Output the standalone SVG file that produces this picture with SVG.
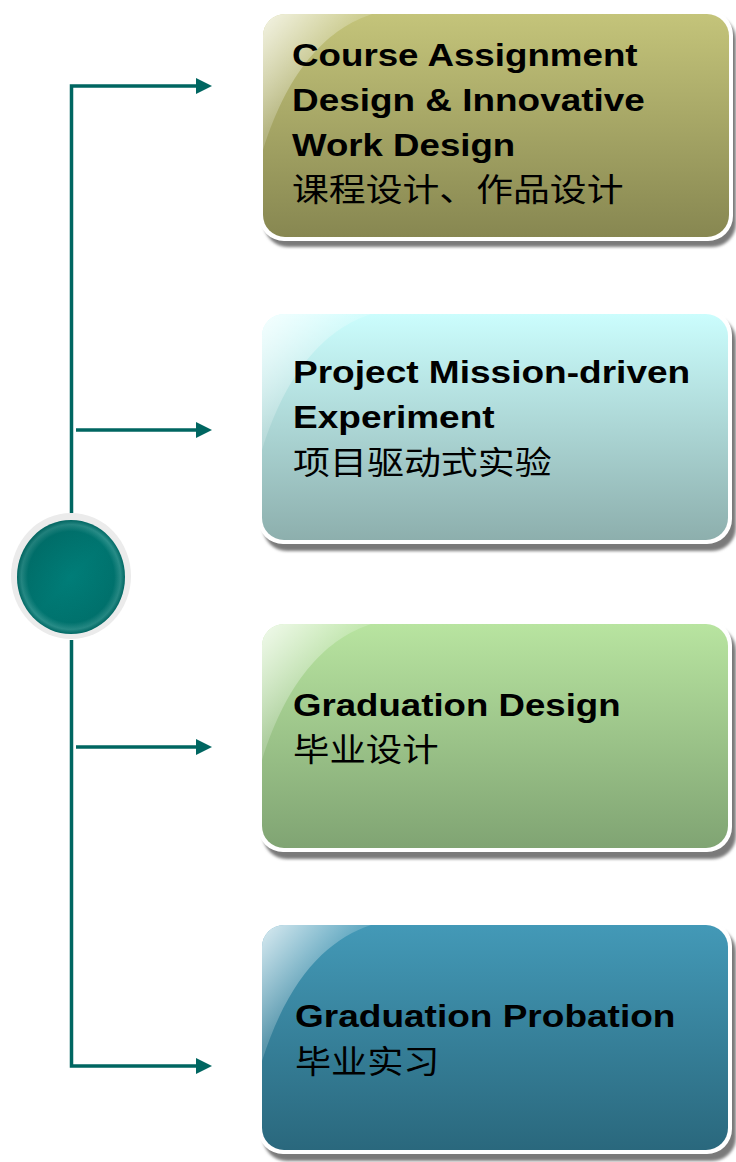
<svg xmlns="http://www.w3.org/2000/svg" width="736" height="1162" viewBox="0 0 736 1162">
<style>
.en{font-family:"Liberation Sans",Arial,sans-serif;font-weight:bold;font-size:31px;fill:#000}
.zh{font-family:"Noto Sans CJK SC","Liberation Sans",sans-serif;font-weight:normal;font-size:32px;fill:#000}
.frame{fill:#fff}
.shadow{fill:#7a7a7a;filter:url(#blur)}
.gloss{fill:url(#glossG)}
.conn{fill:none;stroke:#006661;stroke-width:3.5;marker-end:url(#arr)}
</style>
<defs>
<filter id="blur" x="-5%" y="-5%" width="110%" height="110%"><feGaussianBlur stdDeviation="1.5"/></filter>
<marker id="arr" markerUnits="userSpaceOnUse" markerWidth="16" markerHeight="16" refX="0" refY="8" orient="auto" viewBox="0 0 16 16"><path d="M0,0 L16,8 L0,16 Z" fill="#006661"/></marker>
<linearGradient id="g1" x1="0" y1="0" x2="0" y2="1"><stop offset="0" stop-color="#c4c47a"/><stop offset="1" stop-color="#878751"/></linearGradient>
<linearGradient id="g2" x1="0" y1="0" x2="0" y2="1"><stop offset="0" stop-color="#cbfdfd"/><stop offset="1" stop-color="#8dafad"/></linearGradient>
<linearGradient id="g3" x1="0" y1="0" x2="0" y2="1"><stop offset="0" stop-color="#b8e4a0"/><stop offset="1" stop-color="#80a473"/></linearGradient>
<linearGradient id="g4" x1="0" y1="0" x2="0" y2="1"><stop offset="0" stop-color="#4399b7"/><stop offset="1" stop-color="#2a687d"/></linearGradient>
<linearGradient id="glossG" x1="0" y1="0" x2="1" y2="1"><stop offset="0" stop-color="#fff" stop-opacity="0.8"/><stop offset="0.45" stop-color="#fff" stop-opacity="0.2"/><stop offset="1" stop-color="#fff" stop-opacity="0"/></linearGradient>
<radialGradient id="ball" cx="0.5" cy="0.5" r="0.5"><stop offset="0" stop-color="#007d78"/><stop offset="0.8" stop-color="#007570"/><stop offset="0.92" stop-color="#2a8f8a"/><stop offset="1" stop-color="#006a66"/></radialGradient>
<linearGradient id="ballShade" x1="0" y1="0" x2="1" y2="1"><stop offset="0" stop-color="#004f4b" stop-opacity="0.35"/><stop offset="0.5" stop-color="#004f4b" stop-opacity="0"/><stop offset="1" stop-color="#004f4b" stop-opacity="0.2"/></linearGradient>
</defs>

<g id="connectors">
<path class="conn" d="M71.5,513 V86 H196"/>
<path class="conn" d="M71.5,640 V1066 H196"/>
<path class="conn" d="M76,430 H196"/>
<path class="conn" d="M76,747 H196"/>
</g>

<g id="hub">
<ellipse cx="71" cy="576" rx="60" ry="63" fill="#ebebeb"/>
<ellipse cx="71" cy="577" rx="54" ry="57" fill="url(#ball)"/>
<ellipse cx="71" cy="577" rx="54" ry="57" fill="url(#ballShade)"/>
</g>

<g id="node1">
<rect class="shadow" x="264" y="16" width="472" height="231" rx="24"/>
<rect class="frame" x="259" y="10" width="474" height="231" rx="25"/>
<rect x="263" y="14" width="466" height="223" rx="22" fill="url(#g1)"/>
<path class="gloss" d="M285,14 H372 C330,28 290,65 263,150 V36 A22,22 0 0 1 285,14 Z"/>
<text class="en" transform="matrix(1.2,0,0,1,292,0)" x="0" y="66" textLength="288" lengthAdjust="spacingAndGlyphs">Course Assignment</text>
<text class="en" transform="matrix(1.2,0,0,1,292,0)" x="0" y="111" textLength="294" lengthAdjust="spacingAndGlyphs">Design &amp; Innovative</text>
<text class="en" transform="matrix(1.2,0,0,1,292,0)" x="0" y="156" textLength="186" lengthAdjust="spacingAndGlyphs">Work Design</text>
<text class="zh" transform="matrix(1.12,0,0,1,292,0)" x="0" y="201" textLength="296" lengthAdjust="spacingAndGlyphs">课程设计、作品设计</text>
</g>

<g id="node2">
<rect class="shadow" x="263" y="317" width="473" height="234" rx="24"/>
<rect class="frame" x="258" y="310" width="474" height="234" rx="25"/>
<rect x="262" y="314" width="466" height="226" rx="22" fill="url(#g2)"/>
<path class="gloss" d="M284,314 H371 C329,328 289,365 262,450 V336 A22,22 0 0 1 284,314 Z"/>
<text class="en" transform="matrix(1.2,0,0,1,293,0)" x="0" y="383" textLength="331" lengthAdjust="spacingAndGlyphs">Project Mission-driven</text>
<text class="en" transform="matrix(1.2,0,0,1,293,0)" x="0" y="428" textLength="168" lengthAdjust="spacingAndGlyphs">Experiment</text>
<text class="zh" transform="matrix(1.12,0,0,1,293,0)" x="0" y="474" textLength="231" lengthAdjust="spacingAndGlyphs">项目驱动式实验</text>
</g>

<g id="node3">
<rect class="shadow" x="263" y="627" width="473" height="232" rx="24"/>
<rect class="frame" x="258" y="620" width="474" height="232" rx="25"/>
<rect x="262" y="624" width="466" height="224" rx="22" fill="url(#g3)"/>
<path class="gloss" d="M284,624 H371 C329,638 289,675 262,760 V646 A22,22 0 0 1 284,624 Z"/>
<text class="en" transform="matrix(1.2,0,0,1,293,0)" x="0" y="716" textLength="273" lengthAdjust="spacingAndGlyphs">Graduation Design</text>
<text class="zh" transform="matrix(1.12,0,0,1,293,0)" x="0" y="761" textLength="130" lengthAdjust="spacingAndGlyphs">毕业设计</text>
</g>

<g id="node4">
<rect class="shadow" x="263" y="928" width="473" height="233" rx="24"/>
<rect class="frame" x="258" y="921" width="474" height="233" rx="25"/>
<rect x="262" y="925" width="466" height="225" rx="22" fill="url(#g4)"/>
<path class="gloss" d="M284,925 H371 C329,939 289,976 262,1061 V947 A22,22 0 0 1 284,925 Z"/>
<text class="en" transform="matrix(1.2,0,0,1,295,0)" x="0" y="1027" textLength="317" lengthAdjust="spacingAndGlyphs">Graduation Probation</text>
<text class="zh" transform="matrix(1.12,0,0,1,295,0)" x="0" y="1073" textLength="129" lengthAdjust="spacingAndGlyphs">毕业实习</text>
</g>
</svg>
